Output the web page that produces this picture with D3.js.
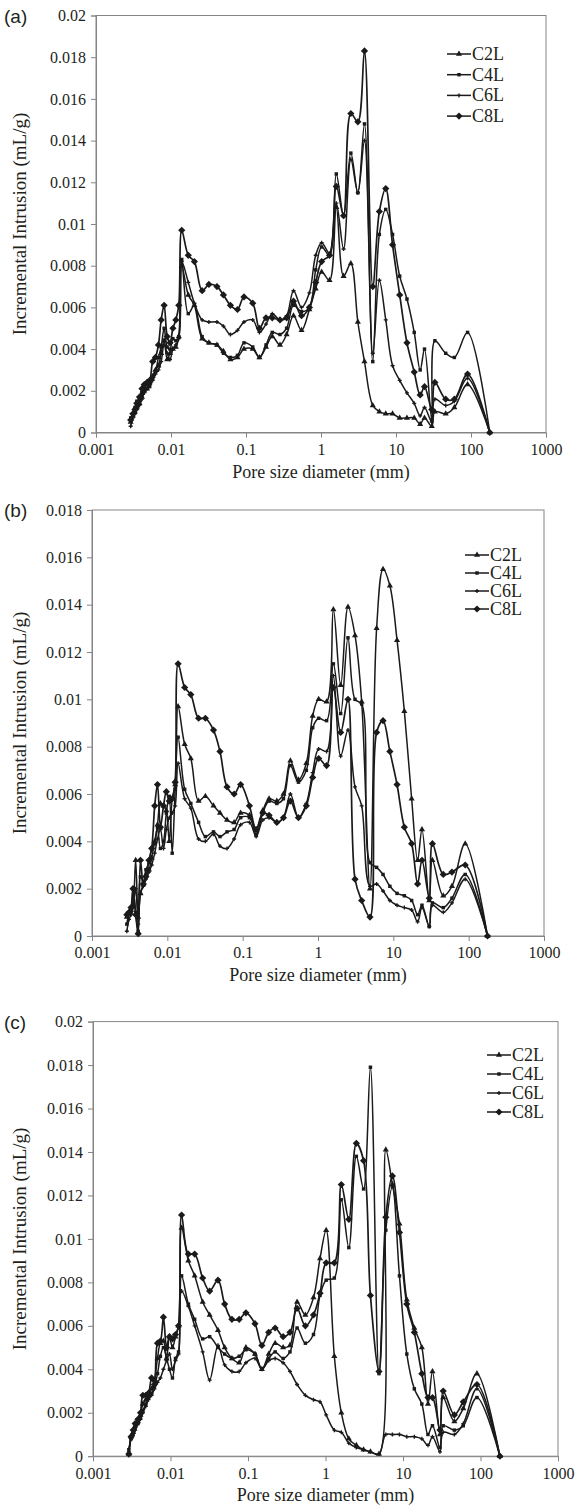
<!DOCTYPE html>
<html>
<head>
<meta charset="utf-8">
<script src="https://cdn.jsdelivr.net/npm/d3@7"></script>
<style>
  body { margin: 0; background: #fff; }
  svg { display: block; }
</style>
</head>
<body>
<svg id="chart" width="579" height="1510"></svg>
<script>
// Pore size classes (mm) shared by every specimen
const poreSize = [0.0029, 0.0031, 0.0033, 0.0035, 0.0038, 0.0041, 0.0044, 0.0048, 0.0052, 0.0057,
  0.0062, 0.0068, 0.0074, 0.0081, 0.0089, 0.0097, 0.0106, 0.0116, 0.0127, 0.0139,
  0.017, 0.0205, 0.026, 0.032, 0.041, 0.050, 0.062, 0.077, 0.094, 0.123,
  0.151, 0.185, 0.224, 0.284, 0.348, 0.43, 0.55, 0.70, 0.85, 1.02,
  1.3, 1.6, 2.0, 2.5, 3.1, 3.8, 4.9, 6.0, 7.3, 9.0,
  11.2, 14, 17.5, 21, 24, 30, 33, 46, 60, 90, 178];

const seriesNames = ["C2L", "C4L", "C6L", "C8L"];
const xTickValues = [0.001, 0.01, 0.1, 1, 10, 100, 1000];
const panelLabels = ["(a)", "(b)", "(c)"];
const yMaxima = [0.02, 0.018, 0.02];

// Incremental intrusion (mL/g), panel (a)
const a_C2L = [0.0005, 0.0008, 0.0010, 0.0012, 0.0014, 0.0017, 0.0020, 0.0021, 0.0024, 0.0027,
  0.0030, 0.0032, 0.0038, 0.0044, 0.0035, 0.0038, 0.0040, 0.0041, 0.0046, 0.0080,
  0.0066, 0.0061, 0.0045, 0.0043, 0.0042, 0.0039, 0.0035, 0.0036, 0.0040, 0.0040,
  0.0036, 0.0041, 0.0046, 0.0042, 0.0047, 0.0056, 0.0049, 0.0059, 0.0069, 0.0077,
  0.0073, 0.0108, 0.0075, 0.0081, 0.0053, 0.0034, 0.0013, 0.0010, 0.0009, 0.0009,
  0.0007, 0.0007, 0.0007, 0.0004, 0.0007, 0.0003, 0.0010, 0.0009, 0.0012, 0.0023, 0];
const a_C4L = [0.0007, 0.0009, 0.0012, 0.0015, 0.0016, 0.0019, 0.0022, 0.0023, 0.0022, 0.0026,
  0.0029, 0.0036, 0.0041, 0.0050, 0.0041, 0.0040, 0.0045, 0.0044, 0.0046, 0.0083,
  0.0057, 0.0061, 0.0046, 0.0043, 0.0042, 0.0038, 0.0036, 0.0037, 0.0043, 0.0041,
  0.0036, 0.0042, 0.0048, 0.0047, 0.0050, 0.0061, 0.0058, 0.0060, 0.0078, 0.0089,
  0.0085, 0.0124, 0.0104, 0.0134, 0.0115, 0.0148, 0.0034, 0.0095, 0.0107, 0.0095,
  0.0075, 0.0064, 0.0048, 0.0030, 0.0040, 0.0006, 0.0044, 0.0038, 0.0036, 0.0048, 0];
const a_C6L = [0.0003, 0.0007, 0.0009, 0.0011, 0.0013, 0.0016, 0.0019, 0.0021, 0.0023, 0.0025,
  0.0028, 0.0030, 0.0034, 0.0042, 0.0038, 0.0035, 0.0040, 0.0042, 0.0045, 0.0082,
  0.0072, 0.0062, 0.0054, 0.0053, 0.0053, 0.0051, 0.0047, 0.0049, 0.0053, 0.0054,
  0.0048, 0.0052, 0.0057, 0.0054, 0.0056, 0.0068, 0.0060, 0.0067, 0.0085, 0.0091,
  0.0086, 0.0110, 0.0088, 0.0131, 0.0115, 0.0140, 0.0038, 0.0073, 0.0054, 0.0032,
  0.0025, 0.0019, 0.0014, 0.0008, 0.0012, 0.0005, 0.0016, 0.0013, 0.0015, 0.0026, 0];
const a_C8L = [0.0006, 0.0009, 0.0011, 0.0014, 0.0017, 0.0021, 0.0023, 0.0024, 0.0025, 0.0034,
  0.0036, 0.0042, 0.0054, 0.0061, 0.0046, 0.0043, 0.0050, 0.0054, 0.0061, 0.0097,
  0.0085, 0.0082, 0.0068, 0.0071, 0.0070, 0.0066, 0.0061, 0.0059, 0.0065, 0.0062,
  0.0050, 0.0055, 0.0055, 0.0054, 0.0055, 0.0063, 0.0056, 0.0060, 0.0072, 0.0082,
  0.0085, 0.0118, 0.0104, 0.0153, 0.0149, 0.0183, 0.0070, 0.0106, 0.0117, 0.0090,
  0.0066, 0.0043, 0.0029, 0.0018, 0.0022, 0.0011, 0.0024, 0.0016, 0.0016, 0.0028, 0];

// Incremental intrusion (mL/g), panel (b)
const b_C2L = [0.0008, 0.0010, 0.0011, 0.0013, 0.0032, 0.0008, 0.0018, 0.0022, 0.0026, 0.0028,
  0.0033, 0.0040, 0.0047, 0.0056, 0.0055, 0.0053, 0.0040, 0.0058, 0.0064, 0.0097,
  0.0081, 0.0075, 0.0057, 0.0059, 0.0055, 0.0052, 0.0049, 0.0048, 0.0052, 0.0051,
  0.0045, 0.0053, 0.0058, 0.0057, 0.0060, 0.0074, 0.0066, 0.0073, 0.0093, 0.0100,
  0.0099, 0.0138, 0.0106, 0.0139, 0.0127, 0.0099, 0.0020, 0.0130, 0.0155, 0.0148,
  0.0125, 0.0095, 0.0058, 0.0032, 0.0045, 0.0015, 0.0032, 0.0017, 0.0021, 0.0039, 0];
const b_C4L = [0.0005, 0.0009, 0.0010, 0.0020, 0.0010, 0.0002, 0.0025, 0.0023, 0.0028, 0.0031,
  0.0037, 0.0039, 0.0046, 0.0037, 0.0040, 0.0052, 0.0059, 0.0035, 0.0062, 0.0084,
  0.0062, 0.0056, 0.0048, 0.0042, 0.0044, 0.0042, 0.0044, 0.0045, 0.0050, 0.0050,
  0.0043, 0.0052, 0.0057, 0.0056, 0.0058, 0.0072, 0.0065, 0.0070, 0.0088, 0.0092,
  0.0091, 0.0115, 0.0094, 0.0126, 0.0100, 0.0098, 0.0031, 0.0029, 0.0026, 0.0021,
  0.0018, 0.0017, 0.0015, 0.0009, 0.0013, 0.0004, 0.0014, 0.0012, 0.0016, 0.0026, 0];
const b_C6L = [0.0002, 0.0007, 0.0009, 0.0012, 0.0020, 0.0005, 0.0018, 0.0021, 0.0024, 0.0027,
  0.0030, 0.0035, 0.0041, 0.0045, 0.0037, 0.0045, 0.0050, 0.0052, 0.0055, 0.0073,
  0.0058, 0.0054, 0.0041, 0.0040, 0.0043, 0.0038, 0.0037, 0.0041, 0.0047, 0.0048,
  0.0042, 0.0049, 0.0050, 0.0048, 0.0050, 0.0060, 0.0050, 0.0056, 0.0069, 0.0079,
  0.0078, 0.0110, 0.0076, 0.0087, 0.0063, 0.0055, 0.0021, 0.0022, 0.0019, 0.0015,
  0.0013, 0.0012, 0.0011, 0.0006, 0.0012, 0.0004, 0.0013, 0.0010, 0.0014, 0.0024, 0];
const b_C8L = [0.0009, 0.0010, 0.0012, 0.0020, 0.0009, 0.0001, 0.0032, 0.0022, 0.0025, 0.0032,
  0.0037, 0.0055, 0.0064, 0.0046, 0.0055, 0.0061, 0.0057, 0.0058, 0.0065, 0.0115,
  0.0105, 0.0102, 0.0092, 0.0092, 0.0087, 0.0078, 0.0063, 0.0060, 0.0064, 0.0055,
  0.0045, 0.0052, 0.0051, 0.0048, 0.0050, 0.0057, 0.0050, 0.0055, 0.0067, 0.0075,
  0.0072, 0.0105, 0.0086, 0.0100, 0.0024, 0.0015, 0.0008, 0.0086, 0.0091, 0.0078,
  0.0064, 0.0046, 0.0039, 0.0022, 0.0032, 0.0016, 0.0039, 0.0026, 0.0027, 0.0030, 0];

// Incremental intrusion (mL/g), panel (c)
const c_C2L = [0.0001, 0.0009, 0.0011, 0.0014, 0.0016, 0.0019, 0.0024, 0.0026, 0.0029, 0.0031,
  0.0035, 0.0045, 0.0052, 0.0053, 0.0045, 0.0055, 0.0050, 0.0055, 0.0060, 0.0105,
  0.0090, 0.0083, 0.0071, 0.0065, 0.0058, 0.0050, 0.0045, 0.0043, 0.0050, 0.0047,
  0.0040, 0.0047, 0.0052, 0.0050, 0.0051, 0.0071, 0.0065, 0.0073, 0.0091, 0.0104,
  0.0046, 0.0020, 0.0008, 0.0005, 0.0003, 0.0002, 0.0001, 0.0141, 0.0125, 0.0107,
  0.0072, 0.0059, 0.0050, 0.0024, 0.0039, 0.0010, 0.0027, 0.0016, 0.0022, 0.0038, 0];
const c_C4L = [0.0003, 0.0008, 0.0010, 0.0013, 0.0015, 0.0018, 0.0021, 0.0024, 0.0027, 0.0029,
  0.0032, 0.0038, 0.0046, 0.0050, 0.0045, 0.0040, 0.0036, 0.0045, 0.0048, 0.0083,
  0.0070, 0.0063, 0.0054, 0.0055, 0.0050, 0.0047, 0.0045, 0.0046, 0.0049, 0.0047,
  0.0040, 0.0045, 0.0048, 0.0045, 0.0048, 0.0059, 0.0052, 0.0056, 0.0074, 0.0081,
  0.0082, 0.0118, 0.0096, 0.0138, 0.0123, 0.0179, 0.0038, 0.0104, 0.0124, 0.0083,
  0.0047, 0.0031, 0.0024, 0.0010, 0.0014, 0.0004, 0.0014, 0.0012, 0.0014, 0.0027, 0];
const c_C6L = [0.0002, 0.0008, 0.0011, 0.0012, 0.0015, 0.0017, 0.0020, 0.0023, 0.0026, 0.0028,
  0.0031, 0.0034, 0.0036, 0.0040, 0.0044, 0.0047, 0.0040, 0.0044, 0.0047, 0.0076,
  0.0069, 0.0060, 0.0048, 0.0035, 0.0051, 0.0042, 0.0039, 0.0039, 0.0043, 0.0045,
  0.0040, 0.0044, 0.0045, 0.0043, 0.0039, 0.0033, 0.0028, 0.0026, 0.0025, 0.0019,
  0.0012, 0.0011, 0.0006, 0.0004, 0.0003, 0.0002, 0.0001, 0.0010, 0.0010, 0.0010,
  0.0009, 0.0009, 0.0008, 0.0005, 0.0009, 0.0002, 0.0011, 0.0010, 0.0015, 0.0031, 0];
const c_C8L = [0.0001, 0.0009, 0.0012, 0.0015, 0.0017, 0.0020, 0.0028, 0.0028, 0.0029, 0.0036,
  0.0033, 0.0052, 0.0053, 0.0064, 0.0050, 0.0055, 0.0054, 0.0056, 0.0060, 0.0111,
  0.0093, 0.0093, 0.0082, 0.0076, 0.0081, 0.0070, 0.0063, 0.0063, 0.0066, 0.0061,
  0.0051, 0.0057, 0.0059, 0.0055, 0.0057, 0.0068, 0.0060, 0.0065, 0.0075, 0.0089,
  0.0089, 0.0125, 0.0109, 0.0144, 0.0136, 0.0074, 0.0039, 0.0110, 0.0129, 0.0103,
  0.0070, 0.0057, 0.0038, 0.0027, 0.0027, 0.0012, 0.0030, 0.0019, 0.0025, 0.0033, 0];

const panelSeries = [
  [a_C2L, a_C4L, a_C6L, a_C8L],
  [b_C2L, b_C4L, b_C6L, b_C8L],
  [c_C2L, c_C4L, c_C6L, c_C8L]
];

// Plot frames for the three stacked panels
const frames = [
  { left: 96, right: 546, top: 15.5, bottom: 432.5, legX: 447, legY: 54, legDy: 20.7 },
  { left: 92, right: 544, top: 510, bottom: 936, legX: 465, legY: 555, legDy: 18 },
  { left: 93, right: 558, top: 1021.6, bottom: 1456.2, legX: 487, legY: 1055, legDy: 19 }
];

const ink = "#1a1a1a";
const textInk = "#231f20";
const frameGrey = "#858585";
const serif = "font-family:'Liberation Serif','Times New Roman',serif";
const sans = "font-family:'Liberation Sans',Arial,sans-serif";
const svg = d3.select("#chart");

// Marker shapes per series
const markerFor = [
  { type: d3.symbolTriangle, size: 16, rot: 0 },
  { type: d3.symbolSquare, size: 12, rot: 0 },
  { type: d3.symbolCross, size: 9, rot: 0 },
  { type: d3.symbolSquare, size: 26, rot: 45 }
];

function drawMarker(g, cx, cy, m) {
  g.append("path")
    .attr("d", d3.symbol().type(m.type).size(m.size)())
    .attr("transform", `translate(${cx},${cy}) rotate(${m.rot})`)
    .attr("fill", ink)
    .attr("stroke", "none");
}

const fmtY = d => d === 0 ? "0" : String(+d.toFixed(3));

frames.forEach((f, pi) => {
  const g = svg.append("g");
  const x = d3.scaleLog().domain([0.001, 1000]).range([f.left, f.right]);
  const y = d3.scaleLinear().domain([0, yMaxima[pi]]).range([f.bottom, f.top]);

  // frame
  g.append("rect")
    .attr("x", f.left).attr("y", f.top)
    .attr("width", f.right - f.left).attr("height", f.bottom - f.top)
    .attr("fill", "none").attr("stroke", frameGrey).attr("stroke-width", 1);

  // y axis
  const yAxis = g.append("g").attr("transform", `translate(${f.left},0)`)
    .call(d3.axisLeft(y).tickValues(d3.range(0, yMaxima[pi] + 1e-9, 0.002))
      .tickFormat(fmtY).tickSize(5).tickPadding(5));
  yAxis.select(".domain").attr("stroke", frameGrey);
  yAxis.selectAll(".tick line").attr("stroke", frameGrey);
  yAxis.selectAll("text").attr("style", `${serif};font-size:16px;fill:${textInk}`);

  // x axis
  const xAxis = g.append("g").attr("transform", `translate(0,${f.bottom})`)
    .call(d3.axisBottom(x).tickValues(xTickValues).tickFormat(d => String(d))
      .tickSize(5).tickPadding(6));
  xAxis.select(".domain").attr("stroke", frameGrey);
  xAxis.selectAll(".tick line").attr("stroke", frameGrey);
  xAxis.selectAll("text").attr("style", `${serif};font-size:16px;fill:${textInk}`);

  // axis titles
  g.append("text")
    .attr("x", (f.left + f.right) / 2).attr("y", f.bottom + 45)
    .attr("text-anchor", "middle")
    .attr("style", `${serif};font-size:18px;fill:${textInk}`)
    .text("Pore size diameter (mm)");
  g.append("text")
    .attr("transform", `translate(26,${(f.top + f.bottom) / 2}) rotate(-90)`)
    .attr("text-anchor", "middle")
    .attr("style", `${serif};font-size:19px;fill:${textInk}`)
    .text("Incremental Intrusion (mL/g)");

  // panel tag
  g.append("text")
    .attr("x", 4).attr("y", f.top + 7)
    .attr("style", `${sans};font-size:19px;fill:${textInk}`)
    .text(panelLabels[pi]);

  // series
  const line = d3.line()
    .x((d, i) => x(poreSize[i]))
    .y(d => y(d))
    .curve(d3.curveCatmullRom.alpha(0.5));

  panelSeries[pi].forEach((vals, si) => {
    g.append("path")
      .attr("d", line(vals))
      .attr("fill", "none")
      .attr("stroke", ink)
      .attr("stroke-linejoin", "round")
      .attr("stroke-width", si === 3 ? 1.7 : 1.5);
    const mg = g.append("g");
    vals.forEach((v, i) => drawMarker(mg, x(poreSize[i]), y(v), markerFor[si]));
  });

  // legend
  seriesNames.forEach((name, si) => {
    const ly = f.legY + si * f.legDy;
    g.append("line")
      .attr("x1", f.legX).attr("x2", f.legX + 24)
      .attr("y1", ly).attr("y2", ly)
      .attr("stroke", ink).attr("stroke-width", 1.5);
    drawMarker(g, f.legX + 12, ly, markerFor[si]);
    g.append("text")
      .attr("x", f.legX + 25).attr("y", ly + 6)
      .attr("style", `${serif};font-size:18px;fill:${textInk}`)
      .text(name);
  });
});
</script>
</body>
</html>
